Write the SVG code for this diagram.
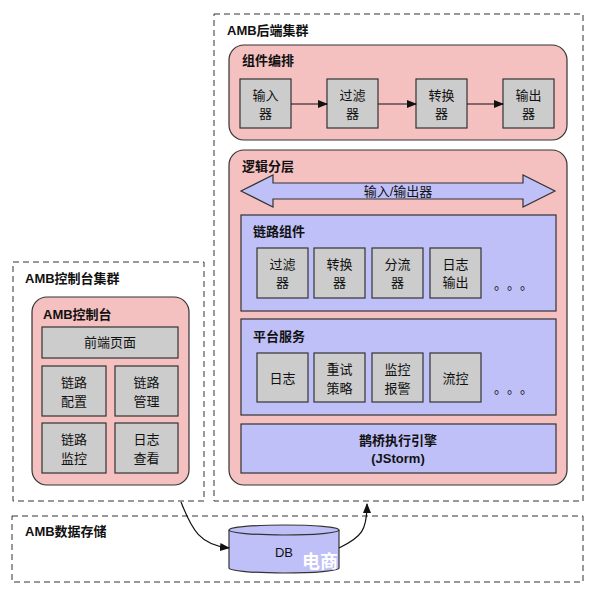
<svg xmlns="http://www.w3.org/2000/svg" width="597" height="600" viewBox="0 0 597 600">
<style>
text{font-family:"Liberation Sans","Noto Sans CJK SC",sans-serif;fill:#111;}
.t{font-size:13px;font-weight:bold;}
.l{font-size:13px;text-anchor:middle;}
.dots{font-family:"Noto Sans CJK SC",sans-serif;font-size:13px;}
.dash{fill:#fff;stroke:#333;stroke-width:1;stroke-dasharray:6,4;}
.pink{fill:#F5C0C0;stroke:#333;stroke-width:1.2;}
.blue{fill:#C0C0F8;stroke:#333;stroke-width:1.2;}
.gray{fill:#CCCCCC;stroke:#333;stroke-width:1.2;}
.edge{fill:none;stroke:#111;stroke-width:1.2;}
</style>
<defs>
<marker id="ah" markerWidth="10" markerHeight="8" refX="9" refY="4" orient="auto" markerUnits="userSpaceOnUse">
<path d="M0,0 L10,4 L0,8 Z" fill="#111"/>
</marker>
</defs>
<rect width="597" height="600" fill="#fff"/>

<g id="backend-cluster">
<rect class="dash" x="214" y="14" width="369" height="487"/>
<text class="t" x="227" y="35">AMB后端集群</text>
</g>

<g id="component-orchestration">
<rect class="pink" x="229" y="45" width="338" height="95" rx="15"/>
<text class="t" x="242" y="65">组件编排</text>
</g>
<g id="input">
<rect class="gray" x="240" y="79" width="51" height="49"/>
<text class="l" x="265.5" y="99.5">输入</text><text class="l" x="265.5" y="117.5">器</text>
</g>
<g id="filter">
<rect class="gray" x="327" y="79" width="51" height="49"/>
<text class="l" x="352.5" y="99.5">过滤</text><text class="l" x="352.5" y="117.5">器</text>
</g>
<g id="transform">
<rect class="gray" x="416" y="79" width="51" height="49"/>
<text class="l" x="441.5" y="99.5">转换</text><text class="l" x="441.5" y="117.5">器</text>
</g>
<g id="output">
<rect class="gray" x="503" y="79" width="51" height="49"/>
<text class="l" x="528.5" y="99.5">输出</text><text class="l" x="528.5" y="117.5">器</text>
</g>

<g id="logic-layer">
<rect class="pink" x="229" y="150" width="338" height="335" rx="15"/>
<text class="t" x="242" y="171">逻辑分层</text>
</g>
<g id="io-arrow">
<polygon class="blue" points="241,191 273,175 273,183 523,183 523,175 555,191 523,207 523,199 273,199 273,207"/>
<text class="l" x="398" y="196">输入/输出器</text>
</g>

<g id="link-components">
<rect class="blue" x="241" y="215" width="315" height="96"/>
<text class="t" x="253" y="236">链路组件</text>
<text class="dots" x="494 507 520" y="289">。。。</text>
</g>
<g id="lc-filter">
<rect class="gray" x="257" y="248" width="51" height="50"/>
<text class="l" x="282.5" y="269">过滤</text><text class="l" x="282.5" y="287">器</text>
</g>
<g id="lc-transform">
<rect class="gray" x="314" y="248" width="51" height="50"/>
<text class="l" x="339.5" y="269">转换</text><text class="l" x="339.5" y="287">器</text>
</g>
<g id="lc-split">
<rect class="gray" x="372" y="248" width="51" height="50"/>
<text class="l" x="397.5" y="269">分流</text><text class="l" x="397.5" y="287">器</text>
</g>
<g id="lc-log">
<rect class="gray" x="430" y="248" width="51" height="50"/>
<text class="l" x="455.5" y="269">日志</text><text class="l" x="455.5" y="287">输出</text>
</g>

<g id="platform-services">
<rect class="blue" x="241" y="319" width="315" height="96"/>
<text class="t" x="253" y="341">平台服务</text>
<text class="dots" x="494 507 520" y="393">。。。</text>
</g>
<g id="ps-log">
<rect class="gray" x="257" y="353" width="51" height="49"/>
<text class="l" x="282.5" y="383">日志</text>
</g>
<g id="ps-retry">
<rect class="gray" x="314" y="353" width="51" height="49"/>
<text class="l" x="339.5" y="374">重试</text><text class="l" x="339.5" y="393">策略</text>
</g>
<g id="ps-monitor">
<rect class="gray" x="372" y="353" width="51" height="49"/>
<text class="l" x="397.5" y="374">监控</text><text class="l" x="397.5" y="393">报警</text>
</g>
<g id="ps-flow">
<rect class="gray" x="430" y="353" width="51" height="49"/>
<text class="l" x="455.5" y="383">流控</text>
</g>

<g id="engine">
<rect class="blue" x="241" y="424" width="315" height="49"/>
<text class="l t" x="398" y="445">鹊桥执行引擎</text>
<text class="l t" x="398" y="463">(JStorm)</text>
</g>

<g id="console-cluster">
<rect class="dash" x="13" y="262" width="191" height="239"/>
<text class="t" x="25" y="283">AMB控制台集群</text>
</g>
<g id="console">
<rect class="pink" x="32" y="297" width="157" height="188" rx="15"/>
<text class="t" x="43" y="319">AMB控制台</text>
</g>
<g id="frontend">
<rect class="gray" x="42" y="327" width="136" height="31"/>
<text class="l" x="110" y="347">前端页面</text>
</g>
<g id="link-config">
<rect class="gray" x="42" y="366" width="64" height="50"/>
<text class="l" x="74" y="387">链路</text><text class="l" x="74" y="406">配置</text>
</g>
<g id="link-manage">
<rect class="gray" x="115" y="366" width="63" height="50"/>
<text class="l" x="146.5" y="387">链路</text><text class="l" x="146.5" y="406">管理</text>
</g>
<g id="link-monitor">
<rect class="gray" x="42" y="423" width="64" height="50"/>
<text class="l" x="74" y="444">链路</text><text class="l" x="74" y="463">监控</text>
</g>
<g id="log-view">
<rect class="gray" x="115" y="423" width="63" height="50"/>
<text class="l" x="146.5" y="444">日志</text><text class="l" x="146.5" y="463">查看</text>
</g>

<g id="data-store">
<rect class="dash" x="12" y="516" width="571" height="66"/>
<text class="t" x="25" y="536">AMB数据存储</text>
</g>
<g id="db">
<path class="blue" d="M229,530 L229,568 A55,5 0 0 0 339,568 L339,530"/>
<ellipse class="blue" cx="284" cy="530" rx="55" ry="5"/>
<text class="l" x="284" y="557">DB</text>
</g>

<g id="connectors">
<path class="edge" d="M291,104 L327,104" marker-end="url(#ah)"/>
<path class="edge" d="M378,104 L416,104" marker-end="url(#ah)"/>
<path class="edge" d="M467,104 L503,104" marker-end="url(#ah)"/>
<path class="edge" d="M181,502 C192,530 200,545 229,548" marker-end="url(#ah)"/>
<path class="edge" d="M339,548 C362,537 367,530 367,504" marker-end="url(#ah)"/>
</g>

<text x="302" y="568" style="font-size:18px;font-weight:bold;fill:#fff">电商</text>
</svg>
